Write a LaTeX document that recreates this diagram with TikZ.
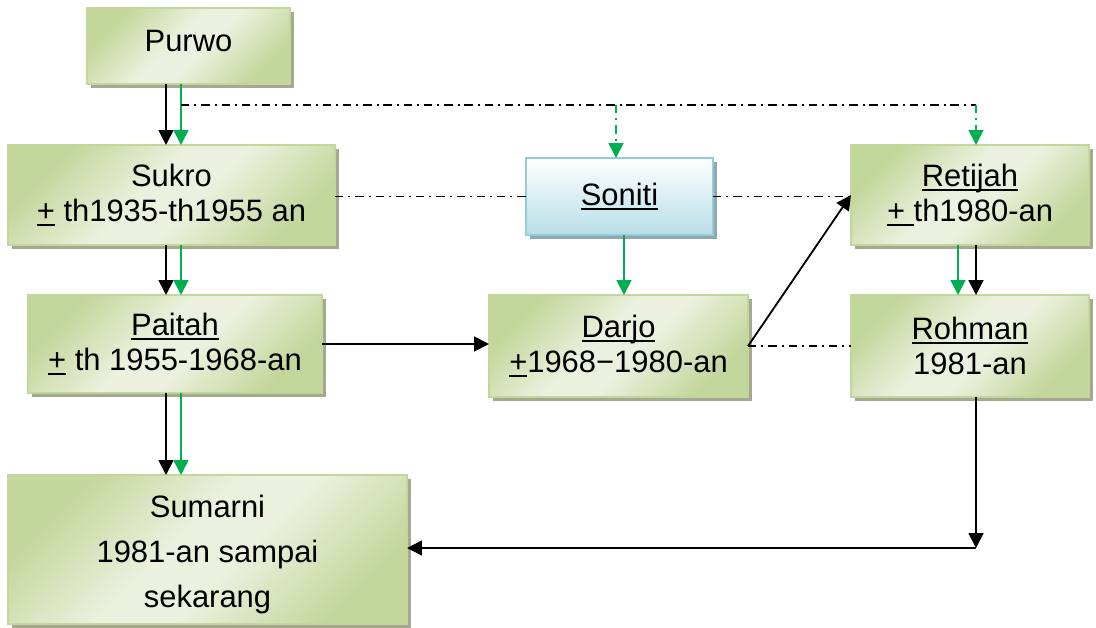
\documentclass[tikz,border=0pt]{standalone}
\usepackage{fontspec}
\setmainfont{Liberation Sans}
\usetikzlibrary{arrows.meta,shadows}
\definecolor{glight}{HTML}{EBF1DE}
\definecolor{gdark}{HTML}{C3D69B}
\definecolor{gborder}{HTML}{C3D69B}
\definecolor{gshadow}{HTML}{A4A98F}
\definecolor{blight}{HTML}{FFFFFF}
\definecolor{bdark}{HTML}{B7DDE8}
\definecolor{bborder}{HTML}{92CDDC}
\definecolor{bshadow}{HTML}{8FA7AD}
\definecolor{arrgreen}{HTML}{00B050}
\pgfdeclareverticalshading{greenband}{100bp}{color(0bp)=(gdark); color(25bp)=(gdark); color(45bp)=(glight); color(55bp)=(glight); color(75bp)=(gdark); color(100bp)=(gdark)}
\newcommand\ulx[1]{\setbox0\hbox{#1}\rlap{\rule[-3pt]{\wd0}{1.1pt}}\box0\relax}
\tikzset{
  gbox/.style={rectangle, inner sep=0pt, outer sep=0pt, draw=gborder, line width=1.2pt,
    shading=greenband, shading angle=45, align=center, font=\fontsize{22}{25}\selectfont,
    general shadow={fill=gshadow, shadow xshift=0.1cm, shadow yshift=-0.1cm}},
  bbox/.style={rectangle, inner sep=0pt, outer sep=0pt, draw=bborder, line width=1.2pt,
    top color=blight, bottom color=bdark, align=center, font=\fontsize{22}{25}\selectfont,
    general shadow={fill=bshadow, shadow xshift=0.1cm, shadow yshift=-0.1cm}},
  blk/.style={draw=black, line width=1.3pt, -{Triangle[length=0.37cm,width=0.37cm]}},
  grn/.style={draw=arrgreen, line width=1.3pt, -{Triangle[length=0.37cm,width=0.37cm]}},
  dd/.style={draw=black, line width=1.3pt, dash pattern=on 6pt off 3.5pt on 1.4pt off 3.5pt},
  ddg/.style={draw=arrgreen, line width=1.3pt, dash pattern=on 6pt off 3.5pt on 1.4pt off 3.5pt, -{Triangle[length=0.37cm,width=0.37cm]}},
}
\begin{document}
\begin{tikzpicture}[x=0.025cm,y=-0.025cm]
\useasboundingbox (0,0) rectangle (1096,627);
% nodes
\node[gbox, minimum width=5.075cm, minimum height=1.9cm] (purwo) at (188.5,46) {\raisebox{8pt}{Purwo}};
\node[gbox, minimum width=8.175cm, minimum height=2.5cm] (sukro) at (171.5,195) {Sukro\\\ulx{+} th1935-th1955 an};
\node[bbox, minimum width=4.675cm, minimum height=1.925cm] (soniti) at (619.5,196.5) {\ulx{Soniti}};
\node[gbox, minimum width=5.95cm, minimum height=2.5cm] (retijah) at (970,195) {\ulx{Retijah}\\\ulx{+ }th1980-an};
\node[gbox, minimum width=7.35cm, minimum height=2.45cm] (paitah) at (175,344) {\ulx{Paitah}\\\ulx{+} th 1955-1968-an};
\node[gbox, minimum width=6.475cm, minimum height=2.55cm] (darjo) at (618.5,346) {\ulx{Darjo}\\\ulx{+}1968−1980-an};
\node[gbox, minimum width=5.95cm, minimum height=2.55cm] (rohman) at (970,346) {\ulx{Rohman}\\1981-an};
\node[gbox, minimum width=9.975cm, minimum height=3.725cm, font=\fontsize{22}{32}\selectfont] (sumarni) at (207.5,549.5) {\rule{0pt}{23.5pt}Sumarni\\1981-an sampai\\sekarang};
% helper coordinates
\coordinate (cA) at (166,0);
\coordinate (cB) at (181,0);
\coordinate (cS) at (616,0);
\coordinate (cD) at (624,0);
\coordinate (cR1) at (958,0);
\coordinate (cR2) at (976,0);
\coordinate (j1) at (181,105);
\coordinate (jS) at (616,105);
\coordinate (jR) at (976,105);
\coordinate (corner) at (976,548);
% connectors
\draw[blk] (purwo.south -| cA) -- (sukro.north -| cA);
\draw[grn] (purwo.south -| cB) -- (sukro.north -| cB);
\draw[dd] (j1) -- (jR);
\draw[ddg] (jS) -- (soniti.north -| jS);
\draw[ddg] (jR) -- (retijah.north -| jR);
\draw[dd] (soniti.west -| sukro.east) -- (soniti.west);
\draw[dd] (soniti.east) -- (soniti.east -| retijah.west);
\draw[blk] (sukro.south -| cA) -- (paitah.north -| cA);
\draw[grn] (sukro.south -| cB) -- (paitah.north -| cB);
\draw[grn] (soniti.south -| cD) -- (darjo.north -| cD);
\draw[blk] (paitah.east) -- (paitah.east -| darjo.west);
\draw[blk] (darjo.east) -- (retijah.west);
\draw[dd] (darjo.east) -- (rohman.west);
\draw[grn] (retijah.south -| cR1) -- (rohman.north -| cR1);
\draw[blk] (retijah.south -| cR2) -- (rohman.north -| cR2);
\draw[blk] (paitah.south -| cA) -- (sumarni.north -| cA);
\draw[grn] (paitah.south -| cB) -- (sumarni.north -| cB);
\draw[blk] (rohman.south -| cR2) -- (corner);
\draw[blk] (corner) -- (corner -| sumarni.east);
\end{tikzpicture}
\end{document}
